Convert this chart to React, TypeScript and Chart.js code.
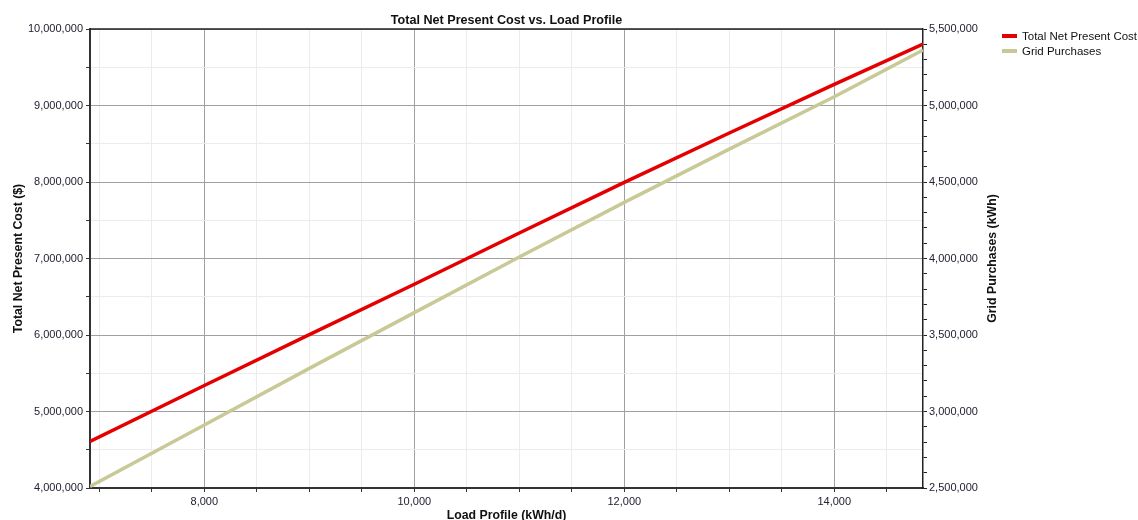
import React, { useEffect, useRef } from "react";
import { Chart, registerables } from "chart.js";

Chart.register(...registerables);

const TITLE = "Total Net Present Cost vs. Load Profile";
const X_TITLE = "Load Profile (kWh/d)";
const Y1_TITLE = "Total Net Present Cost ($)";
const Y2_TITLE = "Grid Purchases (kWh)";

const loadProfile = [6911, 8000, 9000, 10000, 11000, 12000, 13000, 14000, 14845];
const totalNPC = [4610000, 5340000, 6005000, 6663000, 7333000, 7996000, 8640000, 9277000, 9804000];
const gridPurchases = [2510000, 2912000, 3282000, 3646000, 4010000, 4367000, 4715000, 5057000, 5363000];

const seriesNames = ["Total Net Present Cost", "Grid Purchases"];
const seriesColors = ["#e40000", "#c9c997"];

const X_MIN = 6911;
const X_MAX = 14845;
const X_MINOR_STEP = 500;
const X_LABEL_STEP = 2000;
const Y1_MIN = 4000000;
const Y1_MAX = 10000000;
const Y1_MINOR_STEP = 500000;
const Y1_LABEL_STEP = 1000000;
const Y2_MIN = 2500000;
const Y2_MAX = 5500000;
const Y2_MINOR_STEP = 100000;
const Y2_LABEL_STEP = 500000;

const fmt = (v: number) => Math.round(v).toLocaleString("en-US");
const isMult = (v: number, step: number) => Math.abs(v / step - Math.round(v / step)) < 1e-6;
const TICK_FONT = { family: '"Liberation Sans", Arial, sans-serif', size: 11 };
const TICK_COLOR = "#222233";

function stepTicks(min: number, max: number, step: number) {
  const out: { value: number }[] = [];
  const start = Math.ceil(min / step - 1e-9);
  const end = Math.floor(max / step + 1e-9);
  for (let k = start; k <= end; k++) out.push({ value: k * step });
  return out;
}

const overlay = {
  id: "overlay",
  afterDraw(chart: any) {
    const { ctx, chartArea: a } = chart;
    ctx.save();
    ctx.strokeStyle = "#222";
    ctx.lineWidth = 1.5;
    ctx.beginPath();
    ctx.moveTo(a.left, a.top);
    ctx.lineTo(a.right, a.top);
    ctx.stroke();

    ctx.fillStyle = "#111";
    ctx.textAlign = "center";
    ctx.textBaseline = "alphabetic";
    ctx.font = 'bold 12.6px "Liberation Sans", Arial, sans-serif';
    ctx.fillText(TITLE, (a.left + a.right) / 2, 24);
    ctx.font = 'bold 12.3px "Liberation Sans", Arial, sans-serif';
    ctx.fillText(X_TITLE, (a.left + a.right) / 2, 519);

    ctx.textBaseline = "middle";
    const midY = (a.top + a.bottom) / 2;
    ctx.save();
    ctx.translate(18.5, midY);
    ctx.rotate(-Math.PI / 2);
    ctx.fillText(Y1_TITLE, 0, 0);
    ctx.restore();
    ctx.save();
    ctx.translate(993, midY);
    ctx.rotate(-Math.PI / 2);
    ctx.fillText(Y2_TITLE, 0, 0);
    ctx.restore();

    // legend
    ctx.textAlign = "left";
    ctx.textBaseline = "alphabetic";
    ctx.font = '11.5px "Liberation Sans", Arial, sans-serif';
    seriesNames.forEach((name, i) => {
      const y = 36 + i * 15;
      ctx.strokeStyle = seriesColors[i];
      ctx.lineWidth = 4;
      ctx.beginPath();
      ctx.moveTo(1002, y);
      ctx.lineTo(1017, y);
      ctx.stroke();
      ctx.fillStyle = "#111";
      ctx.fillText(name, 1022, y + 4);
    });
    ctx.restore();
  },
};

export default function App() {
  const ref = useRef<HTMLCanvasElement | null>(null);

  useEffect(() => {
    if (!ref.current) return;
    const chart = new Chart(ref.current, {
      type: "line",
      data: {
        datasets: [
          {
            label: seriesNames[0],
            data: loadProfile.map((x, i) => ({ x, y: totalNPC[i] })),
            borderColor: seriesColors[0],
            borderWidth: 3.5,
            pointRadius: 0,
            yAxisID: "y",
            tension: 0,
          },
          {
            label: seriesNames[1],
            data: loadProfile.map((x, i) => ({ x, y: gridPurchases[i] })),
            borderColor: seriesColors[1],
            borderWidth: 3.5,
            pointRadius: 0,
            yAxisID: "y2",
            tension: 0,
          },
        ],
      },
      options: {
        responsive: false,
        animation: false,
        devicePixelRatio: 1,
        layout: { padding: { top: 29, left: 0, right: 135, bottom: 0 } },
        plugins: { legend: { display: false }, title: { display: false }, tooltip: { enabled: false } },
        scales: {
          x: {
            type: "linear",
            min: X_MIN,
            max: X_MAX,
            afterBuildTicks: (s: any) => {
              s.ticks = stepTicks(X_MIN, X_MAX, X_MINOR_STEP);
            },
            afterFit: (s: any) => {
              s.height = 32;
            },
            border: { color: "#333", width: 2 },
            grid: {
              color: (c: any) => (c.tick && isMult(c.tick.value, X_LABEL_STEP) ? "#a0a0a0" : "#ececec"),
              tickColor: "#333",
              tickLength: 4,
            },
            ticks: {
              autoSkip: false,
              maxRotation: 0,
              padding: 3,
              color: TICK_COLOR,
              font: TICK_FONT,
              callback: (v: any) => (isMult(Number(v), X_LABEL_STEP) ? fmt(Number(v)) : ""),
            },
          },
          y: {
            type: "linear",
            position: "left",
            min: Y1_MIN,
            max: Y1_MAX,
            afterBuildTicks: (s: any) => {
              s.ticks = stepTicks(Y1_MIN, Y1_MAX, Y1_MINOR_STEP);
            },
            afterFit: (s: any) => {
              s.width = 90;
            },
            border: { color: "#333", width: 2 },
            grid: {
              color: (c: any) => (c.tick && isMult(c.tick.value, Y1_LABEL_STEP) ? "#a0a0a0" : "#ececec"),
              tickColor: "#333",
              tickLength: 4,
            },
            ticks: {
              autoSkip: false,
              padding: 3,
              color: TICK_COLOR,
              font: TICK_FONT,
              callback: (v: any) => (isMult(Number(v), Y1_LABEL_STEP) ? fmt(Number(v)) : ""),
            },
          },
          y2: {
            type: "linear",
            position: "right",
            min: Y2_MIN,
            max: Y2_MAX,
            afterBuildTicks: (s: any) => {
              s.ticks = stepTicks(Y2_MIN, Y2_MAX, Y2_MINOR_STEP);
            },
            afterFit: (s: any) => {
              s.width = 80;
            },
            border: { color: "#222", width: 1.5 },
            grid: {
              drawOnChartArea: false,
              tickColor: "#222",
              tickLength: 4,
            },
            ticks: {
              autoSkip: false,
              padding: 2,
              color: TICK_COLOR,
              font: TICK_FONT,
              callback: (v: any) => (isMult(Number(v), Y2_LABEL_STEP) ? fmt(Number(v)) : ""),
            },
          },
        },
      } as any,
      plugins: [overlay],
    });
    return () => chart.destroy();
  }, []);

  return (
    <div style={{ position: "absolute", left: 0, top: 0, width: 1138, height: 520, background: "#fff" }}>
      <canvas ref={ref} width={1138} height={520} style={{ width: 1138, height: 520, display: "block" }} />
    </div>
  );
}
